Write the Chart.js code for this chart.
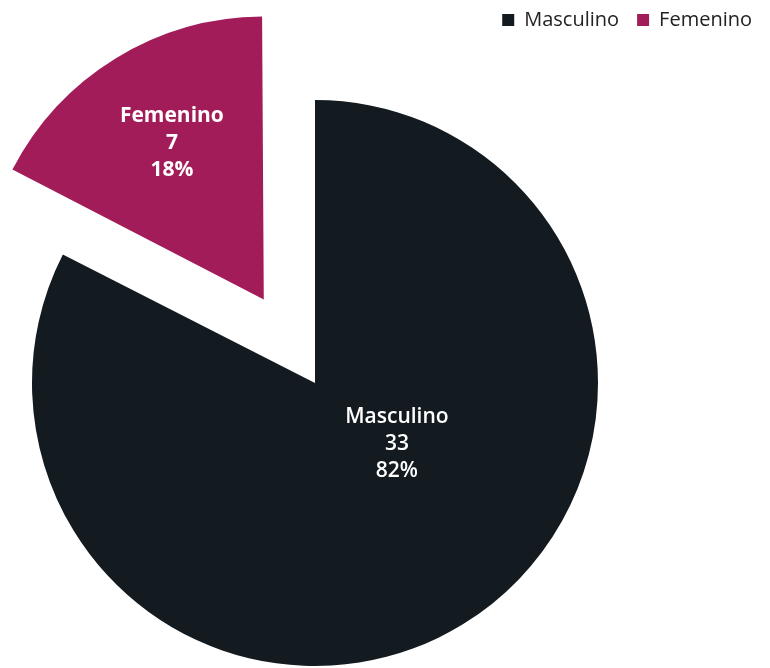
<!DOCTYPE html>
<html>
<head>
<meta charset="utf-8">
<script src="https://cdn.jsdelivr.net/npm/chart.js@4/dist/chart.umd.min.js"></script>
<style>
  html, body { margin: 0; padding: 0; background: #fff; overflow: hidden; }
  /* el lienzo es más ancho que la ventana para que la torta quede a la izquierda */
  #wrap { width: 910px; height: 734px; margin-left: -140px; margin-top: -8px; }
</style>
</head>
<body>
<div id="wrap"><canvas id="genderChart"></canvas></div>
<script>
// =========================
// Datos
// =========================

const labels = ["Masculino", "Femenino"];
const counts = [33, 7];
const percents = ["82%", "18%"];
const colors = ["#131a20", "#a31c5a"];
const offsets = [0, 392];

// posición de las etiquetas: fracción del radio y giro respecto al ángulo medio
const labelRadius = [0.36, 0.665];
const labelTurn = [-22, 1];
const labelWeight = ["600", "bold"];

// =========================
// Plugins
// =========================

// Chart.js agranda un poco la porción separada; se devuelve a su radio original
const keepRadius = {
  id: "keepRadius",
  afterDatasetsUpdate(chart) {
    chart.getDatasetMeta(0).data.forEach((arc) => {
      const shift = (arc.options.offset || 0) / 4;
      const fix = 1 - Math.sin(Math.min(Math.PI, arc.circumference));
      arc.outerRadius -= shift * fix;
    });
  },
};

const sliceLabels = {
  id: "sliceLabels",
  afterDatasetsDraw(chart) {
    const ctx = chart.ctx;
    const arcs = chart.getDatasetMeta(0).data;

    arcs.forEach((arc, i) => {
      const mid = (arc.startAngle + arc.endAngle) / 2;
      const shift = (arc.options.offset || 0) / 4;
      const angle = mid + (labelTurn[i] * Math.PI) / 180;
      const r = arc.outerRadius * labelRadius[i];
      const x = arc.x + Math.cos(mid) * shift + Math.cos(angle) * r;
      const y = arc.y + Math.sin(mid) * shift + Math.sin(angle) * r;

      ctx.save();
      ctx.fillStyle = "#ffffff";
      ctx.textAlign = "center";
      ctx.textBaseline = "middle";
      ctx.font = labelWeight[i] + " 21px 'Open Sans'";
      [labels[i], String(counts[i]), percents[i]].forEach((line, j) => {
        ctx.fillText(line, x, y + (j - 1) * 27);
      });
      ctx.restore();
    });
  },
};

// =========================
// Gráfico
// =========================

new Chart(document.getElementById("genderChart"), {
  type: "pie",
  data: {
    labels,
    datasets: [
      {
        data: counts,
        backgroundColor: colors,
        borderWidth: 0,
        offset: offsets,
        radius: 283,
      },
    ],
  },
  options: {
    responsive: true,
    maintainAspectRatio: false,
    animation: false,
    plugins: {
      tooltip: { enabled: false },
      legend: {
        position: "top",
        align: "end",
        labels: {
          boxWidth: 12,
          boxHeight: 12,
          color: "#222222",
          padding: 18,
          font: { family: "'Open Sans'", size: 20 },
        },
      },
    },
  },
  plugins: [keepRadius, sliceLabels],
});
</script>
</body>
</html>
